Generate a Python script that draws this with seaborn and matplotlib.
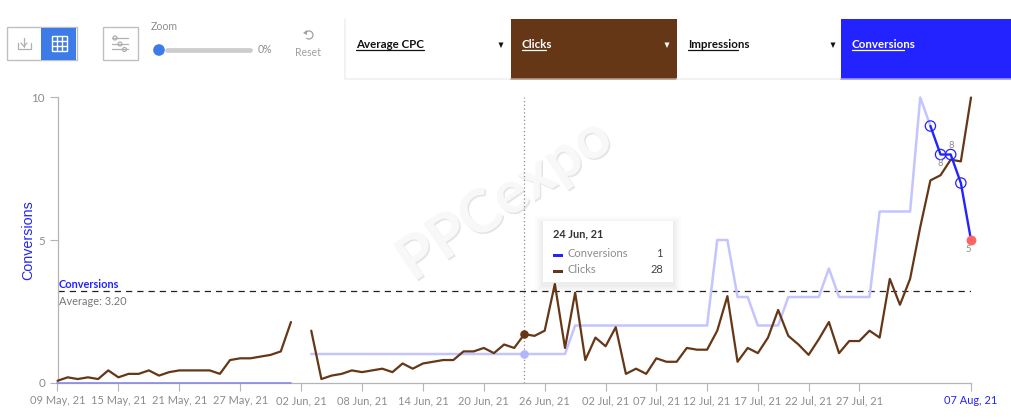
import pandas as pd
import numpy as np
import matplotlib
matplotlib.use('Agg')
import matplotlib.pyplot as plt
import matplotlib.patheffects as pe
from matplotlib.patches import Rectangle, Circle, Polygon
import seaborn as sns

# Daily values, 09 May 21 -> 07 Aug 21, None = no data that day
clicks = [1, 3, 2, 3, 2, 7, 3, 5, 5, 7, 4, 6, 7, 7, 7, 7, 5, 13, 14, 14, 15, 16, 18, 35, None,
          30, 2, 4, 5, 7, 6, 7, 8, 6, 11, 8, 11, 12, 13, 13, 18, 18, 20, 17, 22, 20, 28, 27, 30,
          57, 20, 52, 13, 26, 21, 32, 5, 8, 5, 14, 12, 12, 20, 19, 19, 30, 50, 12, 20, 17, 26, 42,
          27, 22, 16, 25, 35, 17, 24, 24, 30, 26, 60, 45, 60, 90, 117, 120, 129, 128, 165]
conversions = [0] * 24 + [None] + [1] * 26 + [2] * 14 + [5, 5, 3, 3, 2, 2, 2, 3, 3, 3, 3, 4, 3, 3, 3, 3,
                                                       6, 6, 6, 6, 10, 9, 8, 8, 7, 5]
tick_dates = ['2021-05-09', '2021-05-15', '2021-05-21', '2021-05-27', '2021-06-02', '2021-06-08',
              '2021-06-14', '2021-06-20', '2021-06-26', '2021-07-02', '2021-07-07', '2021-07-12',
              '2021-07-17', '2021-07-22', '2021-07-27', '2021-08-07']
tick_labels = ['09 May, 21', '15 May, 21', '21 May, 21', '27 May, 21', '02 Jun, 21', '08 Jun, 21',
               '14 Jun, 21', '20 Jun, 21', '26 Jun, 21', '02 Jul, 21', '07 Jul, 21', '12 Jul, 21',
               '17 Jul, 21', '22 Jul, 21', '27 Jul, 21', '07 Aug, 21']
conv_average = 3.2
tabs = ['Average CPC', 'Clicks', 'Impressions', 'Conversions']

BLUE = '#2323ff'
PALE = '#c4c4ff'
BROWN = '#663716'
GREY = '#8c8c8c'

dates = pd.date_range('2021-05-09', '2021-08-07', freq='D')
df = pd.DataFrame({'date': dates,
                   'clicks': pd.to_numeric(pd.Series(clicks), errors='coerce'),
                   'conversions': pd.to_numeric(pd.Series(conversions), errors='coerce')})

sns.set_theme(style='white')
plt.rcParams['font.family'] = ['Lato', 'DejaVu Sans']

W, H = 1011, 419
fig = plt.figure(figsize=(W / 100, H / 100), dpi=100)
ax = fig.add_axes([57.5 / W, (H - 382.5) / H, 913.5 / W, 285 / H])
ax.patch.set_alpha(0)
ax2 = ax.twinx()  # clicks
ax3 = ax.twinx()  # selected part of conversions, has to sit above clicks
ax2.patch.set_alpha(0)
ax3.patch.set_alpha(0)

# conversions on the left axis
sns.lineplot(data=df.iloc[:24], x='date', y='conversions', color='#8a8ae6', lw=1.2, ax=ax, clip_on=False, zorder=3)
sns.lineplot(data=df.iloc[25:87], x='date', y='conversions', color=PALE, lw=1.8, ax=ax, clip_on=False)
sns.scatterplot(data=df.iloc[[46]], x='date', y='conversions', s=38, color='#b4b4ff', linewidth=0, ax=ax, zorder=6)

# clicks on a hidden second axis
sns.lineplot(data=df.iloc[:24], x='date', y='clicks', color=BROWN, lw=1.6, ax=ax2, clip_on=False)
sns.lineplot(data=df.iloc[25:], x='date', y='clicks', color=BROWN, lw=1.6, ax=ax2, clip_on=False)
sns.scatterplot(data=df.iloc[[46]], x='date', y='clicks', s=38, color=BROWN, linewidth=0, ax=ax2, zorder=6)

sns.lineplot(data=df.iloc[86:], x='date', y='conversions', color=BLUE, lw=1.7, ax=ax3, clip_on=False)
sns.scatterplot(data=df.iloc[86:90], x='date', y='conversions', s=55, facecolor='none', edgecolor=BLUE,
                linewidth=0.9, ax=ax3, zorder=6)
sns.scatterplot(data=df.iloc[[90]], x='date', y='conversions', s=50, color='#ff6464', linewidth=0, ax=ax3,
                zorder=6, clip_on=False)

ax.set_xlim(dates[0], dates[-1])
ax.set_ylim(0, 10)
ax2.set_ylim(0, 165)
ax3.set_ylim(0, 10)
ax2.axis('off')
ax3.axis('off')

ax.axhline(conv_average, color='#222222', lw=0.9, dashes=(5, 4), zorder=1)
ax.axvline(dates[46], color='#8c8c8c', lw=0.9, ls=(0, (1, 2)), zorder=1)

ax.set_xticks(pd.to_datetime(tick_dates))
ax.set_xticklabels(tick_labels, fontsize=7.9, color=GREY)
ax.get_xticklabels()[-1].set_color(BLUE)
ax.set_yticks([0, 5, 10])
ax.set_yticklabels(['0', '5', '10'], fontsize=8.4, color=GREY)
ax.tick_params(axis='both', length=6, width=0.8, color='#b4b4b4', bottom=True, left=True, pad=3)
ax.set_xlabel('')
ax.set_ylabel('')
sns.despine(ax=ax)
ax.spines['left'].set_color('#b4b4b4')
ax.spines['bottom'].set_color('#b4b4b4')
ax.spines['left'].set_linewidth(0.9)
ax.spines['bottom'].set_linewidth(0.9)

# watermark sits behind everything
fig.text(505 / W, 1 - 200 / H, 'PPCexpo', fontsize=43, fontweight='bold', color='#f8f8f8', rotation=34,
         ha='center', va='center', zorder=-1,
         path_effects=[pe.SimplePatchShadow(offset=(1, -1), shadow_rgbFace='#e4e4e4', alpha=1), pe.Normal()])

# everything else is html chrome in the original, drawn in pixel coords
ov = fig.add_axes([0, 0, 1, 1], zorder=10)
ov.set_xlim(0, W)
ov.set_ylim(H, 0)
ov.axis('off')
ov.patch.set_alpha(0)

ov.text(28, 240, 'Conversions', rotation=90, color=BLUE, fontsize=10.3, family='Liberation Sans',
        ha='center', va='center')
ov.text(59, 284, 'Conversions', color=BLUE, fontsize=7.9, fontweight='bold', va='center')
ov.text(59, 301, 'Average: 3.20', color='#777777', fontsize=7.9, va='center')
ov.text(951, 145, '8', color=GREY, fontsize=6.8, ha='center', va='center')
ov.text(940.5, 163, '8', color=GREY, fontsize=6.8, ha='center', va='center')
ov.text(968.5, 249, '5', color=GREY, fontsize=6.8, ha='center', va='center')

# tooltip
for grow, a in [(8, 0.01), (6, 0.015), (4, 0.02), (2, 0.025)]:
    ov.add_patch(Rectangle((543 - grow, 221 - grow + 3), 130 + 2 * grow, 61 + 2 * grow, color='black', alpha=a, lw=0))
ov.add_patch(Rectangle((543, 221), 130, 61, color='white', lw=0))
ov.text(553, 234, '24 Jun, 21', fontsize=7.9, fontweight='bold', color='#333333', va='center')
ov.add_patch(Rectangle((553, 254), 10, 2.6, color=BLUE, lw=0))
ov.add_patch(Rectangle((553, 270), 10, 2.6, color=BROWN, lw=0))
ov.text(568, 253, 'Conversions', fontsize=8, color=GREY, va='center')
ov.text(568, 269, 'Clicks', fontsize=8, color=GREY, va='center')
ov.text(663, 253, '1', fontsize=8, color='#444444', ha='right', va='center')
ov.text(663, 269, '28', fontsize=8, color='#444444', ha='right', va='center')

# toolbar buttons
ov.add_patch(Rectangle((6.5, 27.5), 70, 33, fc='white', ec='#c0c0c0', lw=1))
ov.add_patch(Rectangle((41, 28), 35, 32, fc='#3d7be8', lw=0))
ov.plot([17.5, 17.5, 30.5, 30.5], [43, 49, 49, 43], color='#b0b0b0', lw=0.9)
ov.plot([24, 24], [38, 47], color='#b0b0b0', lw=0.9)
ov.plot([21, 24, 27], [43, 46.5, 43], color='#b0b0b0', lw=0.9)
ov.add_patch(Rectangle((51.5, 36.5), 15, 15, fc='none', ec='white', lw=1))
for g in [41.5, 46.5]:
    ov.plot([51.5, 66.5], [g, g], color='white', lw=1)
for g in [56.5, 61.5]:
    ov.plot([g, g], [36.5, 51.5], color='white', lw=1)

ov.add_patch(Rectangle((102.5, 27.5), 35, 33, fc='white', ec='#c0c0c0', lw=1))
for yy, kx in [(38, 115), (44, 120), (49.5, 124.5)]:
    ov.plot([112, 128], [yy, yy], color='#b0b0b0', lw=0.9)
    ov.add_patch(Circle((kx, yy), 2, fc='white', ec='#b0b0b0', lw=0.9))

ov.text(151, 27, 'Zoom', fontsize=7.6, color=GREY, va='center')
ov.plot([167, 250], [50, 50], color='#cccccc', lw=3.4, solid_capstyle='round')
ov.add_patch(Circle((159, 50), 5.8, fc='#3d7be8', lw=0))
ov.text(258, 49.5, '0%', fontsize=7.6, color=GREY, va='center')
ov.text(308.5, 53, 'Reset', fontsize=7.6, color='#a0a0a0', ha='center', va='center')
th = np.linspace(-2.6, 2.2, 30)
ov.plot(309 + 4 * np.cos(th), 35 + 4 * np.sin(th), color='#a0a0a0', lw=0.9)
ov.add_patch(Polygon([(303, 33), (307, 30), (307, 35)], color='#a0a0a0', lw=0))

# series tabs
tab_x = [345, 511, 677, 841]
tab_w = [166, 166, 164, 170]
tab_fill = ['white', BROWN, 'white', BLUE]
tab_edge = ['#f0f0f0', '#b09a88', '#f0f0f0', '#9898f0']
tab_text = ['#111111', 'white', '#111111', 'white']
underline = [68, 24, 50, 52]
for i, name in enumerate(tabs):
    ov.add_patch(Rectangle((tab_x[i], 19), tab_w[i], 60, fc=tab_fill[i], ec='none', zorder=1))
    ov.plot([tab_x[i], tab_x[i] + tab_w[i]], [79, 79], color=tab_edge[i], lw=1.2, zorder=2)
    ov.text(tab_x[i] + 11, 44.5, name, fontsize=8.3, fontweight='bold', color=tab_text[i], va='center', zorder=3)
    ov.plot([tab_x[i] + 11, tab_x[i] + 11 + underline[i]], [50.5, 50.5], color=tab_text[i], lw=0.9, zorder=3)
    if i < 3:
        tri = tab_x[i] + 156
        ov.add_patch(Polygon([(tri - 2.5, 42.5), (tri + 2.5, 42.5), (tri, 48)], color=tab_text[i], lw=0, zorder=3))
ov.plot([345, 345], [19, 79], color='#f0f0f0', lw=1.2)

plt.savefig('out.png', dpi=100)
